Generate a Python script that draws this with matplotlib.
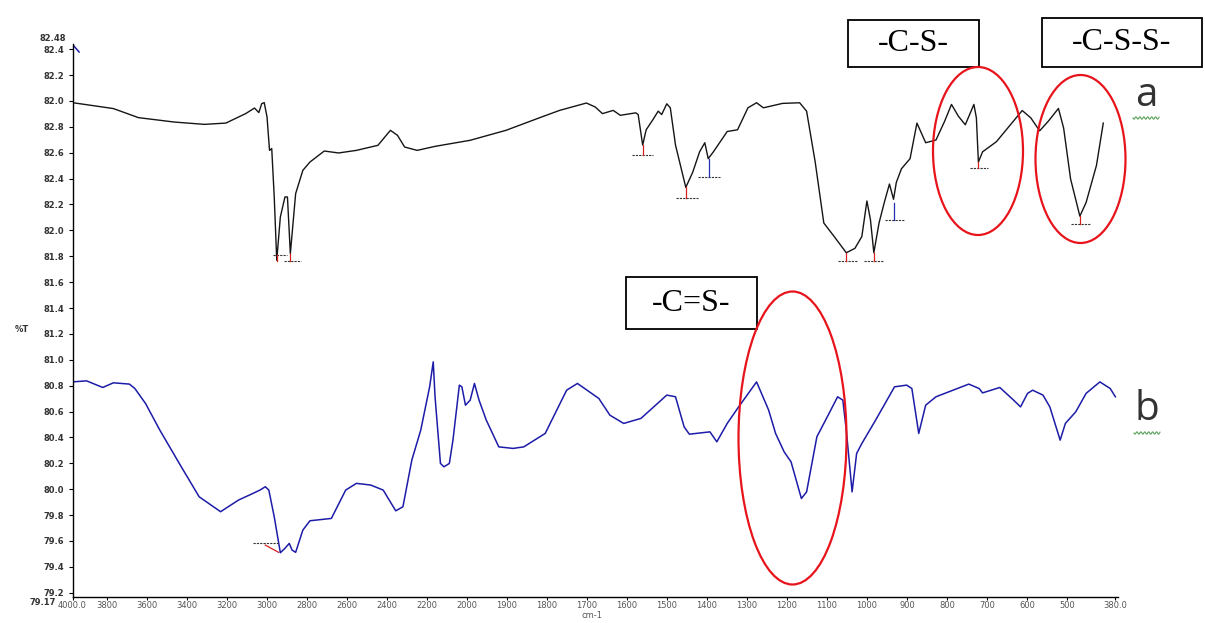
import numpy as np
import matplotlib
matplotlib.use("Agg")
import matplotlib.pyplot as plt
from matplotlib.patches import Rectangle, Ellipse
from matplotlib.lines import Line2D

# spectrum a (upper trace, black): wavenumber (cm-1), %T
A_WN = [3971, 3765.5, 3640.5, 3462, 3310.5, 3203.5, 3105, 3060.5, 3039, 3024.5,
        3012, 2998, 2985.5, 2974.5, 2962, 2949.5, 2931.5, 2908.5, 2896, 2881.5,
        2855, 2819, 2783.5, 2712, 2640.5, 2551.5, 2444, 2381.5, 2346, 2310.5,
        2248, 2158.5, 1991.5, 1902, 1813, 1768, 1701, 1679, 1661, 1634,
        1616.5, 1577.8, 1571.8, 1560.5, 1551.8, 1534.8, 1521.8, 1513, 1500.3, 1491.5,
        1478.5, 1452.8, 1435.5, 1418.3, 1405.3, 1396.8, 1383.8, 1349.3, 1323.5, 1297.5,
        1276, 1258.8, 1211.3, 1168.3, 1151, 1129.5, 1108, 1082, 1051.8, 1030.3,
        1013, 1000.3, 991.5, 983, 970, 957, 944, 933.8, 926.8, 914,
        892.5, 875.3, 853.5, 827.8, 806.3, 789, 771.8, 754.5, 733, 726.8,
        721.8, 711.3, 676.8, 612.3, 590.8, 568.8, 547.5, 521.8, 508.8, 491.5,
        468.3, 452.8, 426.8, 409.8]
A_T = [82.987, 82.941, 82.871, 82.837, 82.819, 82.829, 82.902, 82.945, 82.910, 82.979,
       82.987, 82.876, 82.618, 82.632, 82.258, 81.769, 82.103, 82.258, 82.258, 81.821,
       82.284, 82.464, 82.528, 82.613, 82.598, 82.618, 82.657, 82.773, 82.734, 82.644,
       82.618, 82.649, 82.696, 82.773, 82.876, 82.927, 82.984, 82.953, 82.902, 82.927,
       82.889, 82.908, 82.895, 82.659, 82.777, 82.856, 82.921, 82.895, 82.978, 82.947,
       82.659, 82.332, 82.449, 82.607, 82.677, 82.554, 82.607, 82.764, 82.777, 82.947,
       82.986, 82.947, 82.981, 82.986, 82.921, 82.528, 82.057, 81.952, 81.827, 81.861,
       81.952, 82.227, 82.083, 81.827, 82.057, 82.214, 82.358, 82.240, 82.371, 82.476,
       82.554, 82.829, 82.677, 82.698, 82.842, 82.973, 82.882, 82.816, 82.973, 82.869,
       82.528, 82.607, 82.685, 82.926, 82.869, 82.769, 82.842, 82.942, 82.790, 82.398,
       82.110, 82.214, 82.502, 82.829]

# spectrum b (lower trace, blue)
B_WN = [3971, 3899.5, 3819, 3765.5, 3685.5, 3658.5, 3605, 3533.5, 3426.5, 3337,
        3230, 3140.5, 3087, 3033.5, 3006.5, 2989, 2962, 2931.5, 2908.5, 2887,
        2873, 2855, 2819, 2783.5, 2676.5, 2605, 2551.5, 2480, 2417.5, 2355,
        2319, 2274.5, 2230, 2185.5, 2167.5, 2158.5, 2131.5, 2114, 2087, 2069,
        2037, 2024.5, 2006.5, 1991.5, 1980.8, 1969.3, 1951.3, 1920, 1884.3, 1857.5,
        1804, 1750.5, 1723.5, 1670, 1642.5, 1608, 1564.8, 1500.3, 1478.5, 1457,
        1444, 1392.5, 1375.3, 1349.3, 1323.5, 1276, 1245.8, 1228.5, 1207, 1189.8,
        1164, 1151, 1125.3, 1099.3, 1073.5, 1060.5, 1051.8, 1037.3, 1026, 1013,
        978.5, 931.3, 901, 888, 870.8, 853.5, 827.8, 745.8, 720, 711.3,
        668.3, 633.8, 616.5, 599, 586.3, 560.5, 543.3, 517.5, 504.5, 478.5,
        452.8, 418.3, 392.5, 379.5]
B_T = [80.829, 80.837, 80.786, 80.822, 80.812, 80.778, 80.662, 80.456, 80.173, 79.941,
       79.826, 79.916, 79.954, 79.993, 80.019, 79.993, 79.787, 79.509, 79.543, 79.581,
       79.530, 79.512, 79.684, 79.756, 79.774, 79.993, 80.045, 80.032, 79.993, 79.833,
       79.864, 80.225, 80.456, 80.791, 80.984, 80.714, 80.199, 80.173, 80.199, 80.379,
       80.804, 80.791, 80.649, 80.688, 80.817, 80.688, 80.534, 80.327, 80.315, 80.327,
       80.431, 80.765, 80.817, 80.701, 80.572, 80.508, 80.547, 80.727, 80.714, 80.482,
       80.425, 80.443, 80.366, 80.508, 80.624, 80.829, 80.611, 80.431, 80.288, 80.211,
       79.928, 79.979, 80.405, 80.559, 80.714, 80.688, 80.456, 79.979, 80.276, 80.353,
       80.534, 80.791, 80.804, 80.778, 80.431, 80.649, 80.714, 80.812, 80.778, 80.744,
       80.786, 80.688, 80.636, 80.740, 80.765, 80.727, 80.636, 80.379, 80.508, 80.598,
       80.740, 80.829, 80.778, 80.714]

# stray fragment at top-left corner
C_WN = [3970, 3937]
C_T = [83.437, 83.378]

# peak-pick baselines (dashed) and their drop lines
DASH_LO = [2968, 2912, 1586, 1477, 1422, 1073.5, 1008.8, 954.5, 744, 491.5, 3069]
DASH_HI = [2896, 2828, 1535, 1422, 1368, 1021.8, 961.3, 908, 698.5, 444, 2944]
DASH_T = [81.813, 81.761, 82.586, 82.253, 82.410, 81.764, 81.764, 82.083, 82.481, 82.050, 79.586]
DROP_WN = [2949.5, 2881.5, 1560.5, 1452.8, 1051.8, 983, 721.8, 468.3, 1395, 933]
DROP_LO = [81.761, 81.761, 82.586, 82.253, 81.764, 81.764, 82.481, 82.050, 82.410, 82.083]
DROP_HI = [81.813, 81.821, 82.659, 82.332, 81.827, 81.827, 82.528, 82.110, 82.554, 82.214]
DROP_COLOR = ["#d62020"] * 8 + ["#2030b0"] * 2
SLANT_WN = [3006.5, 2940.5]
SLANT_T = [79.568, 79.512]

XTICKS = [3970, 3800, 3600, 3400, 3200, 3000, 2800, 2600, 2400, 2200, 2000,
          1900, 1800, 1700, 1600, 1500, 1400, 1300, 1200, 1100, 1000,
          900, 800, 700, 600, 500, 380]
XLABELS = ["4000.0", "3800", "3600", "3400", "3200", "3000", "2800", "2600", "2400",
           "2200", "2000", "1900", "1800", "1700", "1600", "1500", "1400", "1300",
           "1200", "1100", "1000", "900", "800", "700", "600", "500", "380.0"]
YTICKS = [79.2, 79.4, 79.6, 79.8, 80.0, 80.2, 80.4, 80.6, 80.8, 81.0, 81.2,
          81.4, 81.6, 81.8, 82.0, 82.2, 82.4, 82.6, 82.8, 83.0, 83.2, 83.4]
YLABELS = ["79.2", "79.4", "79.6", "79.8", "80.0", "80.2", "80.4", "80.6",
           "80.8", "81.0", "81.2", "81.4", "81.6", "81.8", "82.0", "82.2", "82.4",
           "82.6", "82.8", "82.0", "82.2", "82.4"]
Y_MIN, Y_MAX = 79.17, 83.44
Y_MIN_LABEL, Y_MAX_LABEL = "79.17", "82.48"

W, H = 1205, 623


def fwd(x):
    x = np.asarray(x, dtype=float)
    return np.where(x >= 2000, (x - 2000) * 0.2, (x - 2000) * 0.4)


def inv(u):
    u = np.asarray(u, dtype=float)
    return np.where(u >= 0, 2000 + u / 0.2, 2000 + u / 0.4)


def fx(px):
    return px / W


def fy(py):
    return 1 - py / H


fig = plt.figure(figsize=(W / 100, H / 100), dpi=100)
ax = fig.add_axes([fx(72.5), fy(596.6), (1118 - 72.5) / W, (596.6 - 44) / H])
ax.set_xscale("function", functions=(fwd, inv))

ax.plot(A_WN, A_T, color="#151515", lw=1.0)
ax.plot(B_WN, B_T, color="#1c1ca8", lw=1.1)
ax.plot(C_WN, C_T, color="#1c1ca8", lw=1.1)

for lo, hi, t in zip(DASH_LO, DASH_HI, DASH_T):
    ax.plot([lo, hi], [t, t], color="#333333", lw=0.8, ls=(0, (2, 1)))
for wn, lo, hi, c in zip(DROP_WN, DROP_LO, DROP_HI, DROP_COLOR):
    ax.plot([wn, wn], [lo, hi], color=c, lw=0.9)
ax.plot(SLANT_WN, SLANT_T, color="#d62020", lw=0.9)

ax.set_xlim(3970, 373)
ax.set_ylim(Y_MIN, Y_MAX)
ax.set_xticks(XTICKS)
ax.set_xticklabels(XLABELS, fontsize=6, color="#555555")
ax.set_yticks(YTICKS)
ax.set_yticklabels(YLABELS, fontsize=6, fontweight="bold", color="#333333")
ax.minorticks_off()
ax.tick_params(axis="y", length=3, width=0.8, pad=3)
ax.tick_params(axis="x", length=2, width=0.8, pad=1.5)
for s in ("top", "right"):
    ax.spines[s].set_visible(False)
for s in ("left", "bottom"):
    ax.spines[s].set_linewidth(1.0)

# axis end values, printed just outside the limits as in the instrument output
ax.text(-0.006, 1.002, Y_MAX_LABEL, transform=ax.transAxes, fontsize=6,
        fontweight="bold", color="#333333", ha="right", va="bottom")
ax.text(-0.016, -0.003, Y_MIN_LABEL, transform=ax.transAxes, fontsize=6,
        fontweight="bold", color="#333333", ha="right", va="top")

fig.text(fx(22), fy(330), "%T", fontsize=6, fontweight="bold", color="#333333",
         ha="center", va="center")
fig.text(fx(592), fy(615), "cm-1", fontsize=6, color="#555555", ha="center", va="center")

# labelled boxes
boxes = [(848, 20, 979, 67, "-C-S-"), (1042, 18, 1202, 67, "-C-S-S-"),
         (626, 277, 757, 329, "-C=S-")]
for x0, y0, x1, y1, txt in boxes:
    fig.add_artist(Rectangle((fx(x0), fy(y1)), (x1 - x0) / W, (y1 - y0) / H,
                             transform=fig.transFigure, fill=True, facecolor="white",
                             edgecolor="black", lw=1.3))
    fig.text(fx((x0 + x1) / 2), fy((y0 + y1) / 2), txt, fontsize=23,
             family="Liberation Serif", ha="center", va="center")

# red ellipses
for cx, cy, w, h in [(978, 151, 90, 168), (1080.5, 159, 90, 168), (792.5, 438, 108, 293)]:
    fig.add_artist(Ellipse((fx(cx), fy(cy)), w / W, h / H, transform=fig.transFigure,
                           fill=False, edgecolor="#e8141c", lw=1.6))

# trace letters with spell-check squiggles
for letter, cx, cy, y_sq in [("a", 1146, 96, 118), ("b", 1147, 410, 433)]:
    fig.text(fx(cx), fy(cy), letter, fontsize=29, family="Open Sans",
             color="#333333", ha="center", va="center")
    xs = np.linspace(cx - 13, cx + 13, 40)
    ys = y_sq + 1.2 * np.sin((xs - xs[0]) * 1.6)
    fig.add_artist(Line2D(fx(xs), fy(ys), transform=fig.transFigure,
                          color="#5aa05a", lw=0.8))

fig.savefig("out.png", dpi=100)
